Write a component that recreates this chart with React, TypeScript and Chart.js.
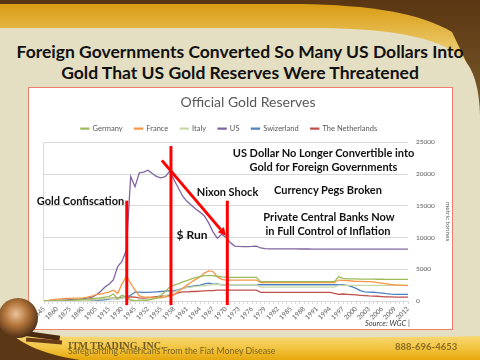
import React, { useEffect, useRef } from "react";
import { Chart, registerables } from "chart.js";

Chart.register(...registerables);

// ---------- DATA ----------
const years = [
  "1845", "1850", "1855", "1860", "1865", "1870", "1875", "1880", "1885", "1890",
  "1895", "1900", "1905", "1908", "1910", "1915", "1920", "1925", "1930", "1935",
  "1940", "1945", "1948", "1950", "1952", "1953", "1954", "1955", "1956", "1957",
  "1958", "1959", "1960", "1961", "1962", "1963", "1964", "1965", "1966", "1967",
  "1968", "1969", "1970", "1971", "1972", "1973", "1974", "1975", "1976", "1977",
  "1978", "1979", "1980", "1981", "1982", "1983", "1984", "1985", "1986", "1987",
  "1988", "1989", "1990", "1991", "1992", "1993", "1994", "1995", "1996", "1997",
  "1998", "1999", "2000", "2001", "2002", "2003", "2004", "2005", "2006", "2007",
  "2008", "2009", "2010", "2011", "2012",
];

const tickLabels = [
  "1845", "1860", "1875", "1890", "1905", "1915", "1930", "1945", "1952", "1955",
  "1958", "1961", "1964", "1967", "1970", "1973", "1976", "1979", "1982", "1985",
  "1988", "1991", "1994", "1997", "2000", "2003", "2006", "2009", "2012",
];

const germany = [
  0, 0, 0, 0, 0, 50, 100, 150, 200, 250,
  300, 400, 400, 500, 600, 700, 1100, 400, 900, 600,
  150, 50, 0, 0, 140, 300, 500, 900, 1500, 2200,
  2500, 2700, 3000, 3200, 3500, 3700, 3850, 4000, 4000, 4000,
  3900, 3800, 3750, 3720, 3720, 3720, 3720, 3720, 3720, 3720,
  3050, 3050, 3050, 3050, 3050, 3050, 3050, 3050, 3050, 3050,
  3050, 3050, 3050, 3050, 3050, 3050, 3050, 3050, 3800, 3550,
  3500, 3480, 3470, 3460, 3450, 3440, 3440, 3430, 3430, 3420,
  3420, 3410, 3400, 3400, 3400,
];

const france = [
  50, 100, 200, 300, 350, 400, 400, 450, 450, 500,
  600, 750, 1000, 1100, 1250, 1400, 1700, 1200, 2700, 3900,
  2800, 1700, 800, 650, 600, 550, 550, 550, 600, 750,
  1000, 1500, 2000, 2500, 3000, 3400, 3800, 4400, 4750, 4650,
  3800, 3400, 3300, 3300, 3300, 3300, 3300, 3300, 3300, 3300,
  2900, 2900, 2900, 2900, 2900, 2900, 2900, 2900, 2900, 2900,
  2900, 2900, 2900, 2900, 2900, 2900, 2900, 2900, 3300, 3250,
  3200, 3150, 3100, 3100, 3050, 3050, 3000, 2900, 2800, 2700,
  2600, 2550, 2500, 2450, 2440,
];

const italy = [
  0, 0, 0, 20, 30, 40, 50, 60, 80, 100,
  100, 150, 200, 300, 350, 400, 450, 300, 500, 550,
  200, 30, 200, 230, 300, 350, 400, 500, 800, 1100,
  1400, 1700, 2000, 2100, 2200, 2300, 2350, 2400, 2500, 2600,
  2600, 2600, 2570, 2560, 2560, 2560, 2560, 2560, 2560, 2560,
  2200, 2200, 2200, 2200, 2200, 2200, 2200, 2200, 2200, 2200,
  2200, 2200, 2200, 2200, 2200, 2200, 2200, 2200, 2450, 2450,
  2450, 2450, 2450, 2450, 2450, 2450, 2450, 2450, 2450, 2450,
  2450, 2450, 2450, 2450, 2450,
];

const us = [
  40, 60, 80, 100, 120, 150, 200, 250, 300, 380,
  450, 580, 950, 1470, 2170, 2640, 3320, 5430, 6220, 8050,
  19600, 18000, 20200, 20300, 20600, 20100, 19600, 19400, 19600, 20460,
  19100, 17800, 16500, 15700, 15100, 14500, 14000, 13400, 12300, 10900,
  9900, 10500, 10000, 9200, 8650, 8600, 8580, 8580, 8600, 8650,
  8350, 8250, 8220, 8220, 8210, 8210, 8200, 8200, 8200, 8190,
  8190, 8190, 8180, 8180, 8180, 8180, 8180, 8170, 8170, 8170,
  8170, 8170, 8170, 8160, 8160, 8160, 8160, 8160, 8160, 8160,
  8160, 8160, 8160, 8160, 8160,
];

const switzerland = [
  0, 0, 0, 0, 0, 0, 10, 20, 30, 40,
  50, 80, 100, 150, 200, 300, 400, 300, 500, 600,
  900, 1400, 1400, 1350, 1350, 1400, 1450, 1500, 1550, 1600,
  1600, 1800, 2000, 2200, 2300, 2400, 2500, 2700, 2800, 2650,
  2700, 2550, 2530, 2560, 2560, 2560, 2560, 2560, 2560, 2560,
  2560, 2560, 2560, 2560, 2560, 2560, 2560, 2560, 2560, 2560,
  2560, 2560, 2560, 2560, 2560, 2560, 2560, 2560, 2560, 2560,
  2450, 2250, 2000, 1650, 1450, 1400, 1380, 1330, 1250, 1150,
  1080, 1040, 1040, 1040, 1040,
];

const netherlands = [
  30, 40, 50, 60, 70, 80, 100, 100, 120, 130,
  150, 180, 200, 250, 300, 400, 450, 500, 550, 600,
  650, 600, 500, 450, 500, 600, 700, 750, 800, 900,
  1000, 1300, 1450, 1450, 1500, 1500, 1550, 1600, 1650, 1650,
  1700, 1700, 1700, 1700, 1700, 1700, 1700, 1700, 1700, 1700,
  1370, 1370, 1370, 1370, 1370, 1370, 1370, 1370, 1370, 1370,
  1370, 1370, 1370, 1370, 1370, 1370, 1370, 1200, 1050, 1100,
  1050, 1000, 950, 900, 850, 800, 780, 750, 700, 650,
  640, 620, 615, 612, 612,
];

// annotation marks, in category-index / value coordinates
const markerLines = [
  { at: 19.1, from: 15800, to: -650 },
  { at: 29.3, from: 24400, to: -650 },
  { at: 42.3, from: 15800, to: -650 },
];
const arrowMark = { fromAt: 27.2, fromVal: 22150, toAt: 42.0, toVal: 10280 };

const plotFrame = {
  id: "plotFrame",
  beforeDatasetsDraw(chart: any) {
    const { ctx, chartArea } = chart;
    ctx.save();
    ctx.strokeStyle = "#d9d9d9";
    ctx.lineWidth = 1;
    ctx.beginPath();
    ctx.moveTo(Math.round(chartArea.left) - 0.5, chartArea.top);
    ctx.lineTo(Math.round(chartArea.left) - 0.5, chartArea.bottom);
    ctx.stroke();
    ctx.restore();
  },
};

const annotationPlugin = {
  id: "redMarks",
  afterDatasetsDraw(chart: any) {
    const xs = chart.scales.x;
    const ys = chart.scales.y;
    const xp = (v: number) => {
      const i = Math.floor(v);
      const f = v - i;
      const a = xs.getPixelForValue(i);
      const b = xs.getPixelForValue(i + 1);
      return a + f * (b - a);
    };
    const ctx = chart.ctx;
    ctx.save();
    ctx.strokeStyle = "#ff0000";
    ctx.fillStyle = "#ff0000";
    ctx.lineWidth = 3;
    markerLines.forEach((m) => {
      const x = xp(m.at);
      ctx.beginPath();
      ctx.moveTo(x, ys.getPixelForValue(m.from));
      ctx.lineTo(x, ys.getPixelForValue(m.to));
      ctx.stroke();
    });
    const x1 = xp(arrowMark.fromAt);
    const y1 = ys.getPixelForValue(arrowMark.fromVal);
    const x2 = xp(arrowMark.toAt);
    const y2 = ys.getPixelForValue(arrowMark.toVal);
    const ang = Math.atan2(y2 - y1, x2 - x1);
    const head = 8;
    const bx = x2 - head * Math.cos(ang);
    const by = y2 - head * Math.sin(ang);
    ctx.beginPath();
    ctx.moveTo(x1, y1);
    ctx.lineTo(bx, by);
    ctx.stroke();
    ctx.beginPath();
    ctx.moveTo(x2, y2);
    ctx.lineTo(bx + 4 * Math.sin(ang), by - 4 * Math.cos(ang));
    ctx.lineTo(bx - 4 * Math.sin(ang), by + 4 * Math.cos(ang));
    ctx.closePath();
    ctx.fill();
    ctx.restore();
  },
};

// shift the legend so that it sits where the reference has it
const legendShift = {
  id: "legendShift",
  afterLayout(chart: any) {
    const lg = chart.legend;
    if (lg) {
      lg.left -= 19;
      lg.right -= 19;
    }
  },
};

const Label = ({ x, y, size, children, weight = 700, color = "#111", style = {} }: any) => (
  <div
    style={{
      position: "absolute",
      left: x,
      top: y,
      transform: "translate(-50%,-50%)",
      fontSize: size,
      fontWeight: weight,
      whiteSpace: "nowrap",
      lineHeight: 1,
      color,
      ...style,
    }}
  >
    {children}
  </div>
);

export default function App() {
  const ref = useRef<HTMLCanvasElement>(null);

  useEffect(() => {
    if (!ref.current) return;
    Chart.defaults.font.family = "Lato, 'Open Sans', sans-serif";
    const mk = (label: string, data: number[], color: string) => ({
      label,
      data,
      borderColor: color,
      backgroundColor: color,
      borderWidth: 1.3,
      pointRadius: 0,
      tension: 0,
    });
    const chart = new Chart(ref.current, {
      type: "line",
      data: {
        labels: years,
        datasets: [
          mk("Germany", germany, "#9bbb59"),
          mk("France", france, "#f79646"),
          mk("Italy", italy, "#c9d9a6"),
          mk("US", us, "#8064a2"),
          mk("Swizerland", switzerland, "#4f81bd"),
          mk("The Netherlands", netherlands, "#c0504d"),
        ],
      },
      options: {
        responsive: false,
        animation: false,
        layout: { padding: { left: 15, right: 0, top: 0, bottom: 0 } },
        plugins: {
          title: {
            display: true,
            text: "Official Gold Reserves",
            color: "#595959",
            font: { size: 14, weight: "normal" },
            padding: { top: 6, bottom: 2 },
          },
          legend: {
            display: true,
            position: "top",
            labels: {
              color: "#595959",
              font: { size: 7.5 },
              boxWidth: 8,
              boxHeight: 1,
              padding: 12,
            },
          },
          tooltip: { enabled: false },
        },
        scales: {
          x: {
            afterFit: (s: any) => {
              s.height = 28;
            },
            grid: {
              drawOnChartArea: false,
              drawTicks: true,
              tickLength: 3,
              color: "#d9d9d9",
            },
            border: { color: "#d9d9d9" },
            ticks: {
              autoSkip: false,
              maxRotation: 45,
              minRotation: 45,
              color: "#595959",
              font: { size: 6.5 },
              padding: 1,
              callback: (_v: any, i: number) => (tickLabels.includes(years[i]) ? years[i] : ""),
            },
          },
          y: {
            position: "right",
            min: 0,
            max: 25000,
            afterFit: (s: any) => {
              s.width = 44;
            },
            grid: { color: "#d9d9d9", drawTicks: false },
            border: { display: false },
            ticks: {
              stepSize: 5000,
              color: "#595959",
              font: { size: 6.5 },
              padding: 8,
              callback: (v: any) => String(v),
            },
            title: {
              display: true,
              text: "metric tonnes",
              color: "#595959",
              font: { size: 6.5 },
              padding: 0,
            },
          },
        },
      },
      plugins: [plotFrame, annotationPlugin, legendShift],
    });
    return () => chart.destroy();
  }, []);

  return (
    <div
      style={{
        position: "fixed",
        left: 0,
        top: 0,
        width: 480,
        height: 360,
        overflow: "hidden",
        background: "#e4dec3",
        fontFamily: "Lato, 'Open Sans', sans-serif",
      }}
    >
      <svg width={480} height={360} style={{ position: "absolute", left: 0, top: 0 }}>
        <defs>
          <linearGradient id="goldTop" x1="0" y1="0" x2="0" y2="1">
            <stop offset="0" stopColor="#d99d14" />
            <stop offset="1" stopColor="#f4dc92" />
          </linearGradient>
          <linearGradient id="brownR" x1="0" y1="0" x2="0" y2="1">
            <stop offset="0" stopColor="#5a3612" />
            <stop offset="1" stopColor="#80602f" />
          </linearGradient>
        </defs>
        <rect x={0} y={0} width={480} height={130} fill="url(#brownR)" />
        <path d="M0,4 H300 C370,5 420,13 452,32 L470,70 L0,70 Z" fill="url(#goldTop)" />
        <path
          d="M0,28 H320 C395,29 445,38 466,62 C474,72 479,88 480,115 V360 H0 Z"
          fill="#e4dec3"
        />
      </svg>

      <Label x={240} y={52} size={17.5}>
        Foreign Governments Converted So Many US Dollars Into
      </Label>
      <Label x={240} y={73} size={17.5}>
        Gold That US Gold Reserves Were Threatened
      </Label>

      <div
        style={{
          position: "absolute",
          left: 28,
          top: 87,
          width: 425,
          height: 243,
          background: "#ffffff",
          border: "1px solid #ee7f6f",
          boxSizing: "border-box",
        }}
      >
        <canvas ref={ref} width={423} height={241} style={{ display: "block" }} />
      </div>

      <Label x={80.5} y={200} size={11}>Gold Confiscation</Label>
      <Label x={192} y={235} size={12}>$ Run</Label>
      <Label x={227.5} y={191} size={11}>Nixon Shock</Label>
      <Label x={323.5} y={152} size={11}>US Dollar No Longer Convertible into</Label>
      <Label x={323.5} y={166} size={11}>Gold for Foreign Governments</Label>
      <Label x={328} y={189} size={11}>Currency Pegs Broken</Label>
      <Label x={329} y={216} size={11}>Private Central Banks Now</Label>
      <Label x={328} y={230} size={11}>in Full Control of Inflation</Label>
      <div
        style={{
          position: "absolute",
          right: 70,
          top: 320,
          fontSize: 7.5,
          fontStyle: "italic",
          color: "#404040",
          lineHeight: 1,
          whiteSpace: "nowrap",
        }}
      >
        Source: WGC |
      </div>

      <svg width={480} height={360} style={{ position: "absolute", left: 0, top: 0 }}>
        <defs>
          <linearGradient id="goldFoot" x1="0" y1="0" x2="0" y2="1">
            <stop offset="0" stopColor="#f8d873" />
            <stop offset="0.5" stopColor="#f2c440" />
            <stop offset="1" stopColor="#e6a80c" />
          </linearGradient>
          <radialGradient id="globe" cx="0.45" cy="0.4" r="0.65">
            <stop offset="0" stopColor="#ecc49a" />
            <stop offset="0.45" stopColor="#b2743a" />
            <stop offset="1" stopColor="#3e2410" />
          </radialGradient>
        </defs>
        <path d="M0,336 C120,337 300,339 480,336 V360 H0 Z" fill="url(#goldFoot)" />
        <path d="M0,322 C15,342 40,354 80,360 H0 Z" fill="#5b3715" />
        <rect x={22} y={333} width={38} height={5} fill="#4a2a10" transform="rotate(8 40 335)" />
        <rect x={26} y={339} width={36} height={4} fill="#6a3d18" transform="rotate(5 44 341)" />
        <circle cx={18} cy={318} r={20} fill="url(#globe)" />
      </svg>

      <div
        style={{
          position: "absolute",
          left: 68,
          top: 341,
          fontFamily: "'Liberation Serif', 'DejaVu Serif', serif",
          fontWeight: 700,
          fontSize: 10,
          color: "#6f5a25",
          lineHeight: 1,
          whiteSpace: "nowrap",
        }}
      >
        ITM TRADING, INC.
      </div>
      <div
        style={{
          position: "absolute",
          left: 68,
          top: 347,
          fontSize: 8.8,
          color: "#7b6528",
          lineHeight: 1,
          whiteSpace: "nowrap",
        }}
      >
        Safeguarding Americans From the Fiat Money Disease
      </div>
      <div
        style={{
          position: "absolute",
          left: 395,
          top: 342,
          fontSize: 9.5,
          fontWeight: 700,
          color: "#8a6d26",
          lineHeight: 1,
          whiteSpace: "nowrap",
        }}
      >
        888-696-4653
      </div>
    </div>
  );
}
